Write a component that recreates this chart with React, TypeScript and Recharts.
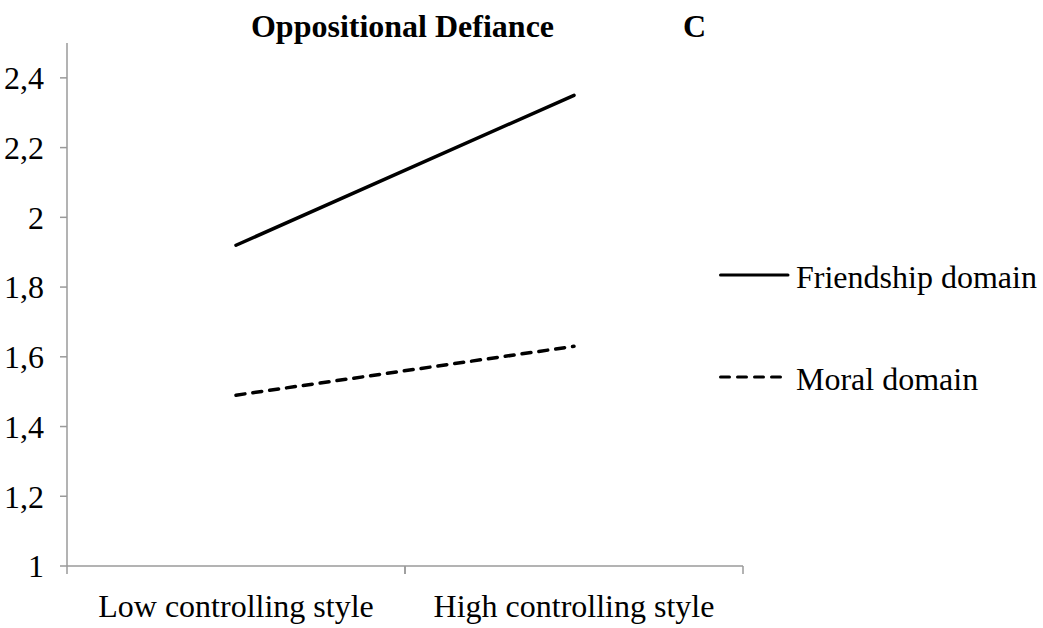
import { LineChart, Line, XAxis, YAxis } from "recharts";

const categories = ["Low controlling style", "High controlling style"];
const friendship = [1.92, 2.35];
const moral = [1.49, 1.63];
const yTicks = [1, 1.2, 1.4, 1.6, 1.8, 2, 2.2, 2.4];
const seriesNames = ["Friendship domain", "Moral domain"];

const data = categories.map((c, i) => ({
  category: c,
  friendship: friendship[i],
  moral: moral[i],
}));

const FONT = "'Liberation Serif', 'Times New Roman', serif";
const AXIS = "#9a9a9a";
const PLOT_W = 676;
const BAND = PLOT_W / categories.length;
const DASH = "9 8";

function XTick(props: any) {
  const { x, y, payload } = props;
  const half = BAND / 2;
  return (
    <g>
      <line x1={x - half} x2={x - half} y1={y} y2={y + 8} stroke={AXIS} strokeWidth={1.5} />
      <line x1={x + half} x2={x + half} y1={y} y2={y + 8} stroke={AXIS} strokeWidth={1.5} />
      <text x={x} y={y + 51} textAnchor="middle" fontSize={32} fontFamily={FONT} fill="#000">
        {payload.value}
      </text>
    </g>
  );
}

function LegendBox() {
  const dashes = [undefined, DASH];
  return (
    <div
      style={{
        position: "absolute",
        left: 719,
        top: 224,
        fontFamily: FONT,
        fontSize: 32,
        color: "#000",
      }}
    >
      {seriesNames.map((name, i) => (
        <div key={name} style={{ display: "flex", alignItems: "center", height: 102 }}>
          <svg width={77} height={10} style={{ display: "block" }}>
            <line
              x1={1.5}
              x2={69}
              y1={5}
              y2={5}
              stroke="#000"
              strokeWidth={3}
              strokeLinecap="round"
              strokeDasharray={dashes[i]}
            />
          </svg>
          <span style={{ lineHeight: 1, marginTop: 4 }}>{name}</span>
        </div>
      ))}
    </div>
  );
}

export default function App() {
  return (
    <div style={{ position: "absolute", left: 0, top: 0, width: 1043, height: 628, background: "#fff" }}>
      <LineChart
        width={1043}
        height={628}
        data={data}
        margin={{ top: 43, right: 300, bottom: 0, left: 7 }}
      >
        <XAxis
          dataKey="category"
          scale="band"
          interval={0}
          axisLine={{ stroke: AXIS, strokeWidth: 1.5 }}
          tickLine={false}
          tickSize={0}
          tickMargin={0}
          height={62}
          tick={<XTick />}
        />
        <YAxis
          domain={[1, 2.5]}
          ticks={yTicks}
          interval={0}
          width={60}
          axisLine={{ stroke: AXIS, strokeWidth: 1.5 }}
          tickLine={{ stroke: AXIS, strokeWidth: 1.5 }}
          tickSize={7}
          tickMargin={16}
          tickFormatter={(v: number) => String(v).replace(".", ",")}
          tick={{ fontSize: 32, fontFamily: FONT, fill: "#000" }}
        />
        <Line
          dataKey="friendship"
          name={seriesNames[0]}
          stroke="#000"
          strokeWidth={3.5}
          strokeLinecap="round"
          dot={false}
          isAnimationActive={false}
        />
        <Line
          dataKey="moral"
          name={seriesNames[1]}
          stroke="#000"
          strokeWidth={3.5}
          strokeLinecap="round"
          strokeDasharray={DASH}
          dot={false}
          isAnimationActive={false}
        />
      </LineChart>
      <LegendBox />
      <div
        style={{
          position: "absolute",
          left: 0,
          width: 805,
          top: 8,
          textAlign: "center",
          fontFamily: FONT,
          fontWeight: "bold",
          fontSize: 32,
          lineHeight: "36px",
        }}
      >
        Oppositional Defiance
      </div>
      <div
        style={{
          position: "absolute",
          left: 683,
          top: 8,
          fontFamily: FONT,
          fontWeight: "bold",
          fontSize: 32,
          lineHeight: "36px",
        }}
      >
        C
      </div>
    </div>
  );
}
